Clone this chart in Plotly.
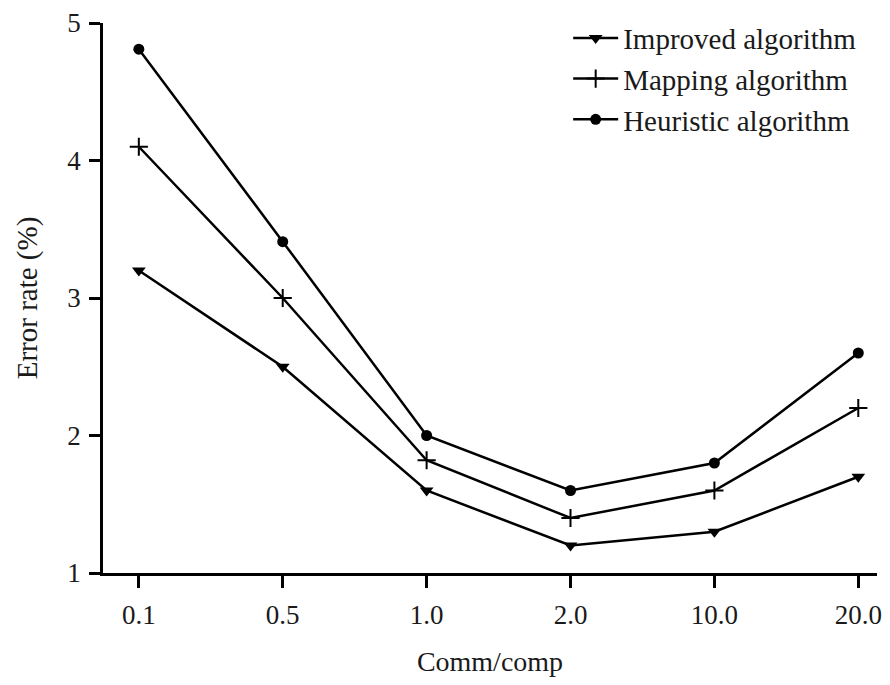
import plotly.graph_objects as go

categories = ["0.1", "0.5", "1.0", "2.0", "10.0", "20.0"]
improved = [3.2, 2.5, 1.6, 1.2, 1.3, 1.7]
mapping = [4.1, 3.0, 1.82, 1.4, 1.6, 2.2]
heuristic = [4.81, 3.41, 2.0, 1.6, 1.8, 2.6]

FONT = "Liberation Serif"

fig = go.Figure()
fig.add_trace(go.Scatter(x=categories, y=improved, name="Improved algorithm", mode="lines+markers",
                         line=dict(color="black", width=2.5),
                         marker=dict(symbol="triangle-down", size=12, color="black")))
fig.add_trace(go.Scatter(x=categories, y=mapping, name="Mapping algorithm", mode="lines+markers",
                         line=dict(color="black", width=2.5),
                         marker=dict(symbol="cross-thin-open", size=13, color="black",
                                     line=dict(color="black", width=2))))
fig.add_trace(go.Scatter(x=categories, y=heuristic, name="Heuristic algorithm", mode="lines+markers",
                         line=dict(color="black", width=2.5),
                         marker=dict(symbol="circle", size=11, color="black")))

fig.update_layout(
    width=874, height=669,
    margin=dict(l=95, r=0, t=13, b=104),
    paper_bgcolor="white", plot_bgcolor="white",
    font=dict(family=FONT, size=27, color="#1a1a1a"),
    showlegend=True,
    legend=dict(x=0.601, y=1.019, xanchor="left", yanchor="top",
                bgcolor="rgba(0,0,0,0)", font=dict(size=29, family=FONT, color="#1a1a1a"),
                tracegroupgap=0, itemsizing="trace", itemwidth=45),
    xaxis=dict(type="category", range=[-0.249, 5.13], showline=True, linecolor="black", linewidth=2.5,
               ticks="outside", ticklen=12, tickwidth=2.5, tickcolor="black", showgrid=False,
               zeroline=False, tickfont=dict(size=27, family=FONT), ticklabelstandoff=4,
               ticklabeloverflow="allow",
               title=dict(text="Comm/comp", font=dict(size=28, family=FONT), standoff=25)),
    yaxis=dict(range=[1, 5], dtick=1, showline=True, linecolor="black", linewidth=2.5,
               ticks="outside", ticklen=11, tickwidth=2.5, tickcolor="black", showgrid=False,
               zeroline=False, tickfont=dict(size=27, family=FONT), ticklabeloverflow="allow",
               ticklabelstandoff=3,
               title=dict(text="Error rate (%)", font=dict(size=29, family=FONT), standoff=22)),
)

fig.write_html("out.html")
